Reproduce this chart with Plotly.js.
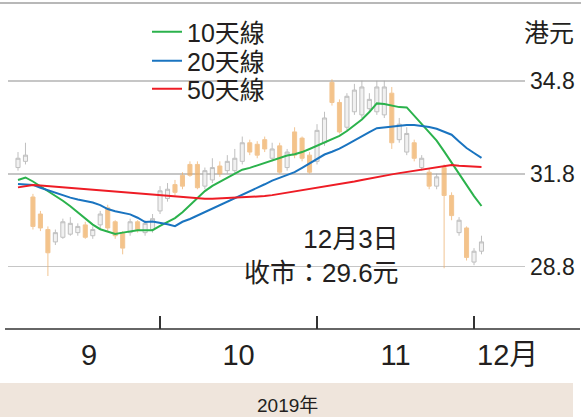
<!DOCTYPE html>
<html><head><meta charset="utf-8">
<script src="https://cdn.plot.ly/plotly-3.0.1.min.js"></script>
<style>html,body{margin:0;padding:0;background:#fff}#chart{width:581px;height:417px}</style>
</head><body><div id="chart"></div>
<script>
const dates = ["2019-09-04","2019-09-05","2019-09-06","2019-09-09","2019-09-10","2019-09-11","2019-09-12","2019-09-13","2019-09-16","2019-09-17","2019-09-18","2019-09-19","2019-09-20","2019-09-23","2019-09-24","2019-09-25","2019-09-26","2019-09-27","2019-09-30",
"2019-10-02","2019-10-03","2019-10-04","2019-10-08","2019-10-09","2019-10-10","2019-10-11","2019-10-14","2019-10-15","2019-10-16","2019-10-17","2019-10-18","2019-10-21","2019-10-22","2019-10-23","2019-10-24","2019-10-25","2019-10-28","2019-10-29","2019-10-30","2019-10-31",
"2019-11-01","2019-11-04","2019-11-05","2019-11-06","2019-11-07","2019-11-08","2019-11-11","2019-11-12","2019-11-13","2019-11-14","2019-11-15","2019-11-18","2019-11-19","2019-11-20","2019-11-21","2019-11-22","2019-11-25","2019-11-26","2019-11-27","2019-11-28","2019-11-29",
"2019-12-02","2019-12-03"];

const opens = [32.0,32.2,31.05,30.5,30.0,29.6,29.75,29.85,29.9,30.15,29.8,30.15,30.7,30.25,29.9,29.9,30.25,29.9,30.0,30.6,31.0,31.45,31.75,32.1,32.1,31.4,31.6,32.05,31.9,31.9,32.2,32.8,32.75,32.9,32.3,32.7,32.0,33.15,32.95,32.4,32.2,32.8,34.75,34.1,33.3,33.8,33.7,33.9,33.8,33.7,34.4,32.9,32.5,32.8,32.0,31.85,31.4,32.0,31.1,29.9,30.05,28.95,29.3];
const highs = [32.5,32.8,31.15,30.6,30.1,30.0,30.35,30.4,30.2,30.25,30.1,30.6,30.8,30.3,29.95,30.35,30.3,30.3,30.5,31.4,31.5,31.6,31.85,32.2,32.2,32.0,32.3,32.2,32.4,32.6,33.0,32.9,32.85,33.0,32.8,32.8,32.6,33.3,33.0,32.5,33.4,33.8,34.85,34.2,34.4,34.7,34.8,34.4,34.8,34.8,34.6,33.6,33.3,32.9,32.4,31.95,31.8,32.1,31.2,30.4,30.1,29.4,29.8];
const lows = [31.9,32.1,30.0,29.95,28.5,29.5,29.7,29.8,29.8,29.7,29.7,30.0,29.95,29.7,29.2,29.8,29.9,29.8,29.9,30.5,30.9,31.1,31.3,31.7,31.3,31.3,31.5,31.7,31.8,31.8,32.1,32.4,32.3,32.5,32.2,31.8,31.9,32.3,32.2,31.8,32.1,32.7,34.0,33.1,33.2,33.7,33.6,33.8,33.7,33.6,32.6,32.8,32.4,32.2,31.9,31.3,31.3,28.75,30.3,29.8,29.0,28.85,29.2];
const closes = [32.3,32.4,30.1,30.05,29.25,29.9,30.25,30.2,30.1,29.75,30.0,30.5,30.05,29.8,29.4,30.25,30.0,30.2,30.35,31.25,31.3,31.2,31.4,31.75,31.35,31.9,32.0,31.8,32.2,32.3,32.8,32.5,32.4,32.6,32.6,31.85,32.5,32.4,32.3,31.85,33.2,33.6,34.1,33.15,34.3,34.5,34.6,34.2,34.6,34.6,32.8,33.4,33.1,32.3,32.3,31.4,31.7,31.1,30.45,30.3,29.1,29.3,29.6];

const ma10 = [31.60,31.68,31.55,31.40,31.24,31.08,30.93,30.75,30.55,30.35,
30.16,30.01,29.93,29.86,29.90,29.94,29.98,29.98,29.98,30.12,
30.25,30.37,30.56,30.78,31.00,31.24,31.41,31.54,31.67,31.80,
31.93,31.99,32.07,32.15,32.24,32.31,32.39,32.43,32.50,32.60,
32.70,32.80,32.90,33.02,33.18,33.37,33.55,33.79,34.07,34.05,
33.99,33.95,33.94,33.68,33.42,33.15,32.87,32.52,32.15,31.79,
31.43,31.08,30.76];
const ma20 = [31.47,31.45,31.44,31.35,31.27,31.18,31.09,31.03,30.97,30.92,
30.87,30.79,30.66,30.59,30.54,30.49,30.38,30.24,30.26,30.22,
30.17,30.11,30.25,30.34,30.45,30.56,30.67,30.78,30.89,31.00,
31.11,31.23,31.34,31.46,31.58,31.67,31.76,31.85,31.99,32.14,
32.29,32.42,32.51,32.61,32.74,32.88,33.01,33.14,33.27,33.30,
33.33,33.36,33.37,33.37,33.35,33.31,33.25,33.15,33.06,32.84,
32.63,32.47,32.31];
const ma50 = [31.36,31.40,31.44,31.42,31.40,31.38,31.36,31.34,31.32,31.30,
31.28,31.26,31.24,31.22,31.19,31.17,31.15,31.13,31.11,31.09,
31.07,31.05,31.04,31.02,31.01,30.99,30.99,31.00,31.01,31.02,
31.03,31.04,31.05,31.08,31.11,31.15,31.17,31.21,31.25,31.29,
31.33,31.37,31.41,31.45,31.50,31.55,31.60,31.65,31.70,31.74,
31.78,31.82,31.86,31.90,31.94,31.98,32.02,32.05,32.08,32.06,
32.05,32.03,32.02];

const seriesNames = ["10天線","20天線","50天線"];
const seriesColors = ["#2bb24c","#1a74c0","#ee1c25"];
const yTicks = [28.8, 31.8, 34.8];
const monthLabels = ["9","10","11","12月"];
const monthLabelPos = [9.5, 29.5, 50.5, 65.5];
const unitLabel = "港元";
const noteText = "12月3日<br>收市：29.6元";
const yearLabel = "2019年";

const FONT = '"Liberation Sans Narrow", "Liberation Sans", Arial, "Noto Sans CJK TC", sans-serif';
const idx = dates.map((d, i) => i);
const monthStarts = idx.filter(i => i > 0 && dates[i].slice(5, 7) !== dates[i - 1].slice(5, 7));
const legendIds = ["legend", "legend2", "legend3"];

const traces = [
  {
    type: "candlestick", x: idx, open: opens, high: highs, low: lows, close: closes,
    increasing: {line: {color: "#a8a8a8", width: 1}, fillcolor: "#ececec"},
    decreasing: {line: {color: "#eeb06a", width: 1}, fillcolor: "#f0ad5e"},
    opacity: 0.72, showlegend: false, hoverinfo: "skip"
  }
];
[ma10, ma20, ma50].forEach((s, k) => {
  traces.push({type: "scatter", mode: "lines", x: idx, y: s, name: seriesNames[k],
    legend: legendIds[k], line: {color: seriesColors[k], width: 2}});
});

const L = 8, R = 525, T = 3, B = 329, W = 581, H = 417;
const pw = R - L, ph = B - T;
const px = v => (v - L) / pw, py = v => (B - v) / ph;

const legendTops = [9, 38, 66];
const mkLegend = top => ({x: px(147), y: py(top), xanchor: "left", yanchor: "top",
  bgcolor: "rgba(0,0,0,0)", font: {size: 25, family: FONT, color: "#231f20"}, itemwidth: 30});

const layout = {
  width: W, height: H,
  margin: {l: L, r: W - R, t: T, b: H - B, pad: 0},
  paper_bgcolor: "#ffffff", plot_bgcolor: "#ffffff",
  font: {family: FONT, color: "#231f20"},
  showlegend: true,
  boxgap: 0.22,
  legend: mkLegend(legendTops[0]),
  legend2: mkLegend(legendTops[1]),
  legend3: mkLegend(legendTops[2]),
  xaxis: {
    range: [-1.338, 67.82], tickmode: "array", tickvals: monthLabelPos, ticktext: monthLabels,
    ticks: "", showgrid: false, zeroline: false, showline: false,
    tickfont: {size: 29, family: FONT, color: "#231f20"}, ticklabelstandoff: 6,
    minor: {tickmode: "array", tickvals: monthStarts, ticks: "inside", ticklen: 13, tickwidth: 1.5, tickcolor: "#333333", showgrid: false},
    rangeslider: {visible: false}, fixedrange: true
  },
  yaxis: {
    range: [26.79, 37.31], side: "right", tickmode: "array", tickvals: yTicks,
    ticktext: yTicks.map(v => v.toFixed(1)), ticks: "", showgrid: true,
    gridcolor: "#c6c6c6", gridwidth: 1.5, zeroline: false, showline: false,
    tickfont: {size: 23, family: FONT, color: "#231f20"}, ticklabelstandoff: 4, fixedrange: true
  },
  shapes: [
    {type: "line", xref: "paper", yref: "paper", x0: px(0), x1: px(581), y0: py(3), y1: py(3),
      line: {color: "#a0a0a0", width: 1.5}},
    {type: "line", xref: "paper", yref: "paper", x0: px(5), x1: px(580), y0: 0, y1: 0,
      line: {color: "#333333", width: 1.5}},
    {type: "rect", xref: "paper", yref: "paper", x0: px(0), x1: px(573), y0: py(383), y1: py(417),
      fillcolor: "#efe5dc", line: {width: 0}, layer: "below"}
  ],
  annotations: [
    {xref: "paper", yref: "paper", x: px(549), y: py(33), text: unitLabel, showarrow: false,
      font: {size: 25, family: FONT, color: "#231f20"}, xanchor: "center", yanchor: "middle"},
    {xref: "paper", yref: "paper", x: px(401), y: py(256), text: noteText, showarrow: false, align: "right",
      font: {size: 26, family: FONT, color: "#231f20"}, xanchor: "right", yanchor: "middle"},
    {xref: "paper", yref: "paper", x: px(287), y: py(405), text: yearLabel, showarrow: false,
      font: {size: 19, family: FONT, color: "#231f20"}, xanchor: "center", yanchor: "middle"}
  ]
};

Plotly.newPlot("chart", traces, layout, {displayModeBar: false, staticPlot: true});
</script>
</body></html>
